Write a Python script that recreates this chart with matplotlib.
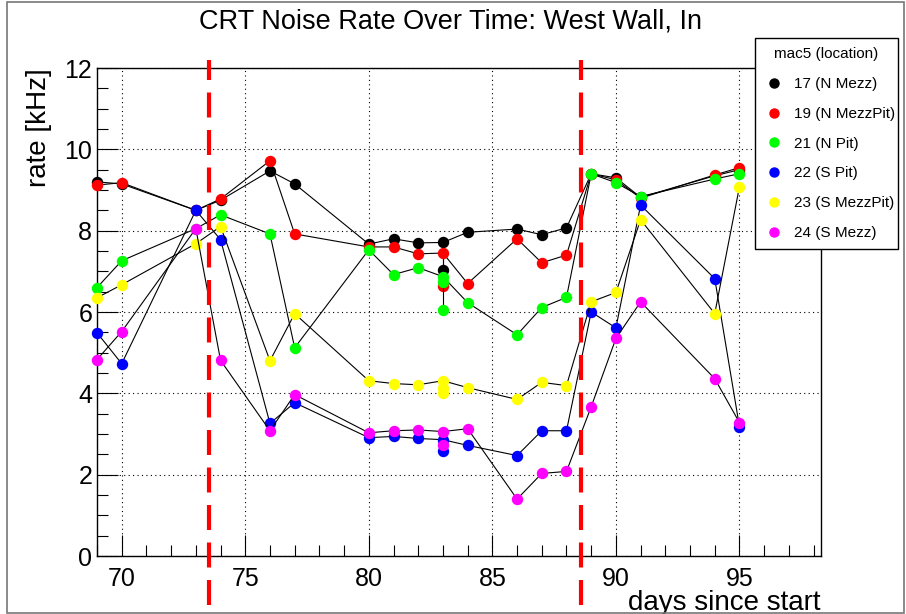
import numpy as np
import matplotlib
matplotlib.use("Agg")
import matplotlib.pyplot as plt
from matplotlib.lines import Line2D
from matplotlib.patches import Rectangle
from matplotlib.ticker import MultipleLocator

plt.rcParams['font.family'] = ['Liberation Sans', 'DejaVu Sans']

# days since start / rate [kHz] per mac5 board (day 83 has several readings)
days17 = [69, 70, 73, 74, 76, 77, 80, 81, 82, 83, 83, 84, 86, 87, 88, 89, 90, 91, 94, 95]
rate17 = [9.2, 9.15, 8.5, 8.75, 9.47, 9.15, 7.67, 7.8, 7.7, 7.71, 7.04, 7.96, 8.04, 7.9, 8.07, 9.4, 9.3, 8.82, 9.35, 9.5]

days19 = [69, 70, 73, 74, 76, 77, 80, 81, 82, 83, 83, 84, 86, 87, 88, 89, 90, 91, 94, 95]
rate19 = [9.12, 9.18, 8.5, 8.78, 9.72, 7.92, 7.6, 7.6, 7.43, 7.45, 6.65, 6.7, 7.8, 7.21, 7.4, 9.4, 9.25, 8.8, 9.37, 9.55]

days21 = [69, 70, 73, 74, 76, 77, 80, 81, 82, 83, 83, 83, 84, 86, 87, 88, 89, 90, 91, 94, 95]
rate21 = [6.6, 7.26, 8.05, 8.39, 7.92, 5.12, 7.53, 6.92, 7.09, 6.87, 6.74, 6.06, 6.23, 5.44, 6.11, 6.36, 9.4, 9.18, 8.84, 9.27, 9.4]

days22 = [69, 70, 73, 74, 76, 77, 80, 81, 82, 83, 83, 84, 86, 87, 88, 89, 90, 91, 94, 95]
rate22 = [5.49, 4.73, 8.5, 7.78, 3.26, 3.77, 2.91, 2.94, 2.89, 2.86, 2.57, 2.72, 2.47, 3.08, 3.08, 6.0, 5.61, 8.63, 6.82, 3.18]

days23 = [69, 70, 73, 74, 76, 77, 80, 81, 82, 83, 83, 83, 84, 86, 87, 88, 89, 90, 91, 94, 95]
rate23 = [6.35, 6.67, 7.68, 8.1, 4.8, 5.96, 4.31, 4.24, 4.21, 4.31, 4.14, 4.02, 4.14, 3.85, 4.27, 4.19, 6.25, 6.48, 8.27, 5.96, 9.08]

days24 = [69, 70, 73, 74, 76, 77, 80, 81, 82, 83, 83, 84, 86, 87, 88, 89, 90, 91, 94, 95]
rate24 = [4.83, 5.52, 8.05, 4.81, 3.08, 3.97, 3.03, 3.08, 3.1, 3.06, 2.72, 3.13, 1.4, 2.03, 2.08, 3.67, 5.35, 6.25, 4.36, 3.28]

labels = ['17 (N Mezz)', '19 (N MezzPit)', '21 (N Pit)', '22 (S Pit)', '23 (S MezzPit)', '24 (S Mezz)']
colors = ['#000000', '#ff0000', '#00ff00', '#0000ff', '#ffff00', '#ff00ff']
cut_days = [73.55, 88.6]

series = [(days17, rate17), (days19, rate19), (days21, rate21),
          (days22, rate22), (days23, rate23), (days24, rate24)]

fig = plt.figure(figsize=(9.06, 6.14), dpi=100)
ax = fig.add_axes([97/906, 1-556/614, (821-97)/906, (556-68)/614])

for i, (d, r) in enumerate(series):
    d = np.array(d, dtype=float)
    r = np.array(r, dtype=float)
    z = 3 + i*0.1
    # connecting line goes through the first reading of each day,
    # repeated readings on the same day are joined by a vertical line
    ud, first = np.unique(d, return_index=True)
    ax.plot(ud, r[first], color='black', lw=0.8, zorder=z)
    for day in ud:
        vals = r[d == day]
        if len(vals) > 1:
            ax.vlines(day, vals.min(), vals.max(), color='black', lw=0.8, zorder=z)
    ax.plot(d, r, ls='none', marker='o', ms=7.2, color=colors[i],
            mec=colors[i], zorder=z+0.05, clip_on=False)

for c in cut_days:
    ax.plot([c, c], [-1.2, 12.2], color='red', lw=3, dashes=(6, 3),
            clip_on=False, zorder=10)

ax.set_xlim(69, 98.3)
ax.set_ylim(0, 12)
ax.xaxis.set_major_locator(MultipleLocator(5))
ax.xaxis.set_minor_locator(MultipleLocator(1))
ax.yaxis.set_major_locator(MultipleLocator(2))
ax.yaxis.set_minor_locator(MultipleLocator(0.5))
ax.tick_params(which='both', direction='in', top=False, right=False, width=0.8)
ax.tick_params(which='major', length=15, labelsize=18)
ax.tick_params(which='minor', length=8)
ax.tick_params(axis='y', pad=3.5)
ax.tick_params(axis='x', pad=8)
ax.grid(which='major', color='black', linestyle=(0, (1, 3)), linewidth=0.8)
ax.set_axisbelow(True)
for s in ax.spines.values():
    s.set_linewidth(1)

ax.set_ylabel('rate [kHz]', fontsize=20, loc='top')
ax.yaxis.set_label_coords(-0.062, 1.0)
ax.set_xlabel('days since start', fontsize=20, loc='right')
ax.xaxis.set_label_coords(1.0, -0.069)

fig.text(0.497, 1-22/614, 'CRT Noise Rate Over Time: West Wall, In',
         ha='center', va='center', fontsize=19.5)

handles = [Line2D([], [], ls='none', marker='o', ms=6.5, color=c, mec=c) for c in colors]
leg = fig.legend(handles, labels, loc='upper left',
                 bbox_to_anchor=(755/906, (614-247)/614, 143/906, 209/614),
                 mode='expand', borderaxespad=0, title='mac5 (location)',
                 fontsize=11, title_fontsize=11, frameon=True, fancybox=False,
                 edgecolor='black', framealpha=1, borderpad=0.62,
                 labelspacing=1.03, handlelength=1.3, handletextpad=0.6)
leg.get_frame().set_linewidth(1)

fig.patches.append(Rectangle((7/906, 1/614), 897/906, 611/614, transform=fig.transFigure,
                             fill=False, edgecolor='#777777', lw=1.2))

fig.savefig('out.png', dpi=100)
